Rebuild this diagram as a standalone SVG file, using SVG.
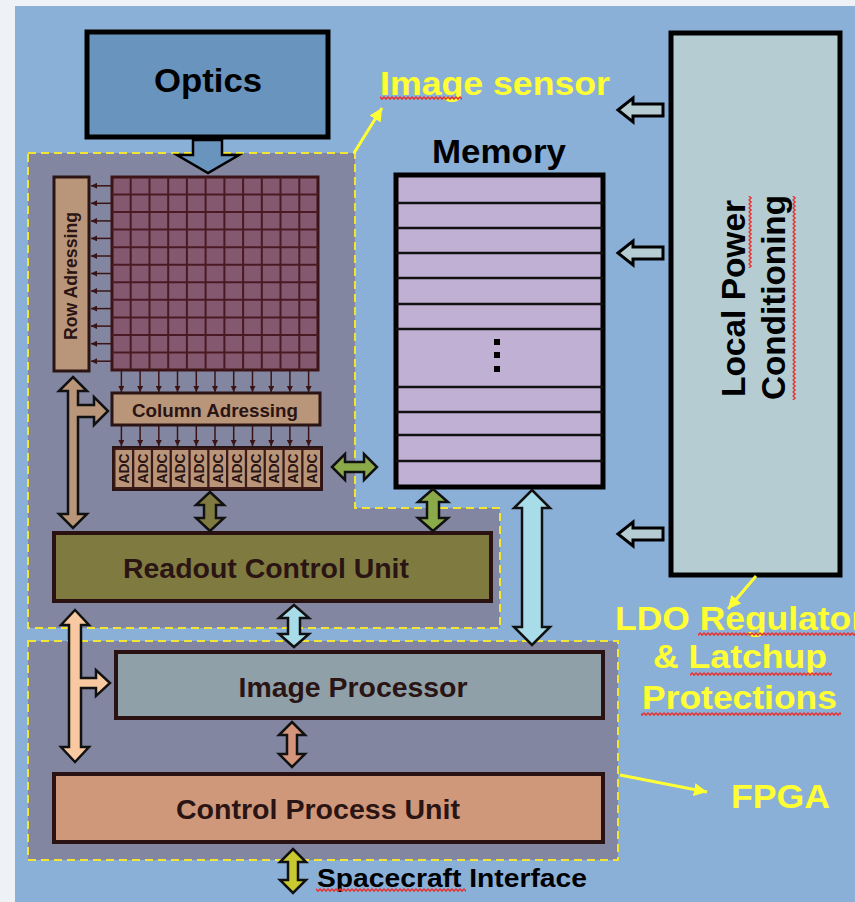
<svg xmlns="http://www.w3.org/2000/svg" width="855" height="902" viewBox="0 0 855 902">
  <defs>
    <style>
      .bold { font-family: "Liberation Sans", Arial, sans-serif; font-weight: bold; }
      .lbl { fill: #ffff33; font-size: 33px; }
      .blk { fill: #000; font-size: 33px; }
      .unit { fill: #2a1414; font-size: 27px; }
      .small { fill: #2a1414; font-size: 18px; }
      .adc { fill: #2a1414; font-size: 15px; }
      .region { fill: #8286a0; stroke: #f2e632; stroke-width: 2; stroke-dasharray: 8 5; }
      .box { stroke: #2a1212; stroke-width: 4; }
      .tan { fill: #b9967a; stroke: #2a1414; stroke-width: 3; }
      .barrow { stroke: #111; stroke-width: 2.5; stroke-linejoin: miter; }
      .pwr { fill: #b5cdd2; stroke: #000; stroke-width: 3; }
      .tiny { stroke: #3a1414; stroke-width: 1.5; fill: none; marker-end: url(#tip); }
      .yl { stroke: #ffff33; stroke-width: 3; fill: none; marker-end: url(#ytip); }
      .sqh { fill: url(#squigH); }
      .sqv { fill: url(#squigV); }
    </style>
    <marker id="tip" viewBox="0 0 6 6" refX="6" refY="3" markerWidth="6" markerHeight="6" markerUnits="userSpaceOnUse" orient="auto">
      <path d="M0,0 L6,3 L0,6 Z" fill="#3a1414"/>
    </marker>
    <marker id="ytip" viewBox="0 0 12 12" refX="12" refY="6" markerWidth="13" markerHeight="13" markerUnits="userSpaceOnUse" orient="auto">
      <path d="M0,0 L12,6 L0,12 Z" fill="#ffff33"/>
    </marker>
    <!-- wavy spell-check underline, horizontal and vertical -->
    <pattern id="squigH" width="4" height="4" patternUnits="userSpaceOnUse">
      <path d="M0,0.8 L2,3.2 L4,0.8" fill="none" stroke="#e8302c" stroke-width="1.4"/>
    </pattern>
    <pattern id="squigV" width="4" height="4" patternUnits="userSpaceOnUse">
      <path d="M0.8,0 L3.2,2 L0.8,4" fill="none" stroke="#e8302c" stroke-width="1.4"/>
    </pattern>
  </defs>

  <!-- page and panel -->
  <rect x="0" y="0" width="855" height="902" fill="#eef2f7"/>
  <rect x="15" y="6" width="840" height="896" fill="#8ab0d8"/>

  <!-- dashed regions -->
  <g id="image-sensor-region">
    <path class="region" d="M28,153 L355,153 L355,508 L500,508 L500,628 L28,628 Z"/>
  </g>
  <g id="fpga-region">
    <rect class="region" x="28" y="641" width="590" height="219"/>
  </g>

  <!-- optics -->
  <g id="optics">
    <rect x="87" y="32" width="241" height="105" fill="#6894be" stroke="#000" stroke-width="5"/>
    <text class="bold blk" x="208" y="92" text-anchor="middle" textLength="108" lengthAdjust="spacingAndGlyphs">Optics</text>
  </g>

  <!-- pixel array -->
  <g id="pixel-array">
    <rect x="112" y="177" width="206" height="193" fill="#84586f" stroke="#3c1418" stroke-width="3"/>
    <g stroke="#4a1a24" stroke-width="2">
      <path d="M130.7,177V370 M149.5,177V370 M168.2,177V370 M186.9,177V370 M205.6,177V370 M224.4,177V370 M243.1,177V370 M261.8,177V370 M280.5,177V370 M299.3,177V370"/>
      <path d="M112,194.5H318 M112,212.1H318 M112,229.6H318 M112,247.2H318 M112,264.7H318 M112,282.3H318 M112,299.8H318 M112,317.4H318 M112,334.9H318 M112,352.5H318"/>
    </g>
  </g>

  <!-- row addressing -->
  <g id="row-addressing">
    <rect class="tan" x="54" y="177" width="35" height="194"/>
    <text class="bold small" transform="translate(77,276) rotate(-90)" text-anchor="middle" textLength="128" lengthAdjust="spacingAndGlyphs">Row Adressing</text>
  </g>

  <!-- column addressing -->
  <g id="column-addressing">
    <rect class="tan" x="112" y="393" width="208" height="32"/>
    <text class="bold small" x="215" y="417" text-anchor="middle" textLength="166" lengthAdjust="spacingAndGlyphs">Column Adressing</text>
  </g>

  <!-- ADC bank -->
  <g id="adc-bank">
    <rect x="113" y="447" width="209" height="43" fill="#3c1a18" stroke="#2a1414" stroke-width="2"/>
    <g fill="#b9967a">
      <rect x="115.5" y="450" width="16.5" height="37"/>
      <rect x="134.3" y="450" width="16.5" height="37"/>
      <rect x="153.1" y="450" width="16.5" height="37"/>
      <rect x="171.9" y="450" width="16.5" height="37"/>
      <rect x="190.7" y="450" width="16.5" height="37"/>
      <rect x="209.5" y="450" width="16.5" height="37"/>
      <rect x="228.3" y="450" width="16.5" height="37"/>
      <rect x="247.1" y="450" width="16.5" height="37"/>
      <rect x="265.9" y="450" width="16.5" height="37"/>
      <rect x="284.7" y="450" width="16.5" height="37"/>
      <rect x="303.5" y="450" width="16.5" height="37"/>
    </g>
    <g class="bold adc" text-anchor="middle">
      <text transform="translate(129,468.5) rotate(-90)" textLength="30" lengthAdjust="spacingAndGlyphs">ADC</text>
      <text transform="translate(147.8,468.5) rotate(-90)" textLength="30" lengthAdjust="spacingAndGlyphs">ADC</text>
      <text transform="translate(166.6,468.5) rotate(-90)" textLength="30" lengthAdjust="spacingAndGlyphs">ADC</text>
      <text transform="translate(185.4,468.5) rotate(-90)" textLength="30" lengthAdjust="spacingAndGlyphs">ADC</text>
      <text transform="translate(204.2,468.5) rotate(-90)" textLength="30" lengthAdjust="spacingAndGlyphs">ADC</text>
      <text transform="translate(223,468.5) rotate(-90)" textLength="30" lengthAdjust="spacingAndGlyphs">ADC</text>
      <text transform="translate(241.8,468.5) rotate(-90)" textLength="30" lengthAdjust="spacingAndGlyphs">ADC</text>
      <text transform="translate(260.6,468.5) rotate(-90)" textLength="30" lengthAdjust="spacingAndGlyphs">ADC</text>
      <text transform="translate(279.4,468.5) rotate(-90)" textLength="30" lengthAdjust="spacingAndGlyphs">ADC</text>
      <text transform="translate(298.2,468.5) rotate(-90)" textLength="30" lengthAdjust="spacingAndGlyphs">ADC</text>
      <text transform="translate(317,468.5) rotate(-90)" textLength="30" lengthAdjust="spacingAndGlyphs">ADC</text>
    </g>
  </g>

  <!-- memory -->
  <g id="memory">
    <text class="bold blk" x="499" y="163" text-anchor="middle" textLength="134" lengthAdjust="spacingAndGlyphs">Memory</text>
    <rect x="396" y="175" width="207" height="312" fill="#c0b0d4" stroke="#000" stroke-width="5"/>
    <path d="M396,203H603 M396,228H603 M396,253H603 M396,278H603 M396,304H603 M396,329H603 M396,387H603 M396,412H603 M396,435H603 M396,461H603" stroke="#111" stroke-width="2.5"/>
    <g fill="#000">
      <rect x="494" y="339" width="6" height="6"/>
      <rect x="494" y="352" width="6" height="6"/>
      <rect x="494" y="366" width="6" height="6"/>
    </g>
  </g>

  <!-- local power conditioning -->
  <g id="power">
    <rect x="671" y="33" width="169" height="542" fill="#b5cdd2" stroke="#000" stroke-width="5"/>
    <text class="bold blk" transform="translate(745,298.5) rotate(-90)" text-anchor="middle" textLength="197" lengthAdjust="spacingAndGlyphs">Local Power</text>
    <text class="bold blk" transform="translate(785,297.5) rotate(-90)" text-anchor="middle" textLength="205" lengthAdjust="spacingAndGlyphs">Conditioning</text>
    <rect class="sqv" x="748" y="196" width="4" height="72"/>
    <rect class="sqv" x="792" y="196" width="4" height="204"/>
  </g>

  <!-- readout control unit -->
  <g id="readout-control-unit">
    <rect class="box" x="54" y="533" width="437" height="68" fill="#7f7a40"/>
    <text class="bold unit" x="266" y="578" text-anchor="middle" textLength="286" lengthAdjust="spacingAndGlyphs">Readout Control Unit</text>
  </g>

  <!-- image processor -->
  <g id="image-processor">
    <rect class="box" x="116" y="652" width="487" height="66" fill="#8fa0a8"/>
    <text class="bold unit" x="353" y="697" text-anchor="middle" textLength="229" lengthAdjust="spacingAndGlyphs">Image Processor</text>
  </g>

  <!-- control process unit -->
  <g id="control-process-unit">
    <rect class="box" x="54" y="774" width="549" height="68" fill="#d0987a"/>
    <text class="bold unit" x="318" y="819" text-anchor="middle" textLength="284" lengthAdjust="spacingAndGlyphs">Control Process Unit</text>
  </g>

  <!-- labels -->
  <g id="labels">
    <text class="bold lbl" x="380" y="95" textLength="230" lengthAdjust="spacingAndGlyphs">Image sensor</text>
    <rect class="sqh" x="380" y="96" width="82" height="4"/>
    <text class="bold lbl" x="615" y="630" textLength="250" lengthAdjust="spacingAndGlyphs">LDO Regulator</text>
    <text class="bold lbl" x="653" y="668" textLength="174" lengthAdjust="spacingAndGlyphs">&amp; Latchup</text>
    <text class="bold lbl" x="642" y="709" textLength="195" lengthAdjust="spacingAndGlyphs">Protections</text>
    <rect class="sqh" x="698" y="632" width="157" height="4"/>
    <rect class="sqh" x="690" y="672" width="142" height="4"/>
    <rect class="sqh" x="641" y="712" width="200" height="4"/>
    <text class="bold lbl" x="731" y="808" textLength="99" lengthAdjust="spacingAndGlyphs">FPGA</text>
    <text class="bold" x="317" y="887" font-size="25" fill="#000" textLength="270" lengthAdjust="spacingAndGlyphs">Spacecraft Interface</text>
    <rect class="sqh" x="316" y="888" width="150" height="4"/>
  </g>

  <!-- connectors -->
  <g id="connectors">
    <!-- optics to pixel array -->
    <path d="M193,140 L222,140 L222,155 L239,155 L208,173 L177,155 L193,155 Z" fill="#6894be" stroke="#000" stroke-width="2.5"/>

    <!-- pixel rows to row addressing -->
    <path class="tiny" d="M112,185.8H91"/>
    <path class="tiny" d="M112,203.3H91"/>
    <path class="tiny" d="M112,220.9H91"/>
    <path class="tiny" d="M112,238.4H91"/>
    <path class="tiny" d="M112,256H91"/>
    <path class="tiny" d="M112,273.5H91"/>
    <path class="tiny" d="M112,291H91"/>
    <path class="tiny" d="M112,308.6H91"/>
    <path class="tiny" d="M112,326.1H91"/>
    <path class="tiny" d="M112,343.7H91"/>
    <path class="tiny" d="M112,361.2H91"/>

    <!-- pixel columns to column addressing -->
    <path class="tiny" d="M121.4,371V392"/>
    <path class="tiny" d="M140.1,371V392"/>
    <path class="tiny" d="M158.8,371V392"/>
    <path class="tiny" d="M177.5,371V392"/>
    <path class="tiny" d="M196.3,371V392"/>
    <path class="tiny" d="M215,371V392"/>
    <path class="tiny" d="M233.7,371V392"/>
    <path class="tiny" d="M252.5,371V392"/>
    <path class="tiny" d="M271.2,371V392"/>
    <path class="tiny" d="M289.9,371V392"/>
    <path class="tiny" d="M308.6,371V392"/>

    <!-- column addressing to ADCs -->
    <path class="tiny" d="M121.4,426V446"/>
    <path class="tiny" d="M140.1,426V446"/>
    <path class="tiny" d="M158.8,426V446"/>
    <path class="tiny" d="M177.5,426V446"/>
    <path class="tiny" d="M196.3,426V446"/>
    <path class="tiny" d="M215,426V446"/>
    <path class="tiny" d="M233.7,426V446"/>
    <path class="tiny" d="M252.5,426V446"/>
    <path class="tiny" d="M271.2,426V446"/>
    <path class="tiny" d="M289.9,426V446"/>
    <path class="tiny" d="M308.6,426V446"/>

    <!-- addressing bus (tan) -->
    <path class="barrow" fill="#b9967a" d="M73,377 L87,391 L78,391 L78,405 L94,405 L94,397 L108,411 L94,425 L94,417 L78,417 L78,514 L87,514 L73,528 L59,514 L68,514 L68,391 L59,391 Z"/>

    <!-- ADC to readout control unit -->
    <path class="barrow" fill="#7f7a40" d="M210,492 L224,505 L216,505 L216,518 L224,518 L210,531 L196,518 L204,518 L204,505 L196,505 Z"/>

    <!-- ADC to memory -->
    <path class="barrow" fill="#8aaa4a" d="M332,467 L345,454 L345,462 L364,462 L364,454 L377,467 L364,480 L364,472 L345,472 L345,480 Z"/>

    <!-- memory to readout control unit -->
    <path class="barrow" fill="#8aaa4a" d="M433,489 L448,502 L439,502 L439,518 L448,518 L433,531 L418,518 L427,518 L427,502 L418,502 Z"/>

    <!-- memory to image processor -->
    <path class="barrow" fill="#a8dce8" d="M532,490 L550,508 L542,508 L542,627 L550,627 L532,645 L514,627 L522,627 L522,508 L514,508 Z"/>

    <!-- readout control unit to image processor -->
    <path class="barrow" fill="#a8dce8" d="M294,605 L309,618 L300,618 L300,634 L309,634 L294,647 L279,634 L288,634 L288,618 L279,618 Z"/>

    <!-- control bus (peach) -->
    <path class="barrow" fill="#f8c8a0" d="M75,610 L89,625 L81,625 L81,678 L96,678 L96,670 L110,683 L96,696 L96,688 L81,688 L81,747 L89,747 L75,762 L61,747 L69,747 L69,625 L61,625 Z"/>

    <!-- image processor to control process unit -->
    <path class="barrow" fill="#d4957a" d="M292,722 L305,735 L297,735 L297,754 L305,754 L292,767 L279,754 L287,754 L287,735 L279,735 Z"/>

    <!-- control process unit to spacecraft -->
    <path class="barrow" fill="#c8c830" d="M293,849 L306,862 L298,862 L298,880 L306,880 L293,893 L280,880 L288,880 L288,862 L280,862 Z"/>

    <!-- power feeds -->
    <path class="pwr" d="M618,110 L633,98 L633,104 L663,104 L663,116 L633,116 L633,122 Z"/>
    <path class="pwr" d="M618,253 L633,241 L633,247 L663,247 L663,259 L633,259 L633,265 Z"/>
    <path class="pwr" d="M618,534 L633,522 L633,528 L663,528 L663,540 L633,540 L633,546 Z"/>

    <!-- label pointers -->
    <path class="yl" d="M354,153 L382,108"/>
    <path class="yl" d="M756,576 L728,609"/>
    <path class="yl" d="M620,775 L707,792"/>
  </g>
</svg>
